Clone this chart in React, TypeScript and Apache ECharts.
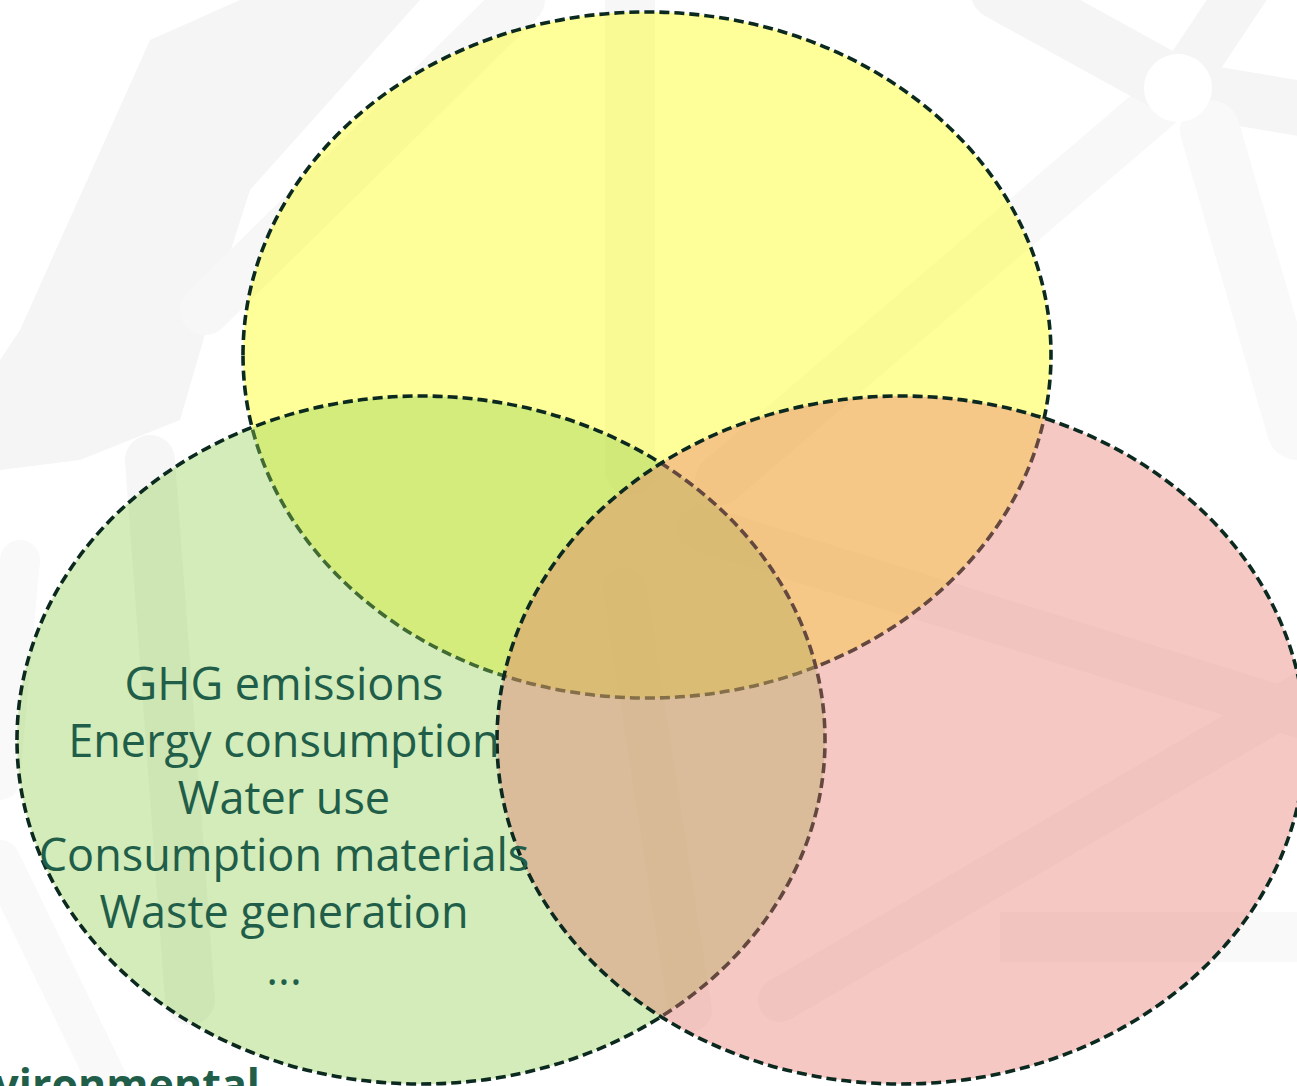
import React, { useEffect, useRef } from "react";
import * as echarts from "echarts";

// ---- data ----
const circleKeys = ["top", "environmental", "right"];
const circleCx = [647, 421, 901];
const circleCy = [355, 740, 740];
const circleRx = [404, 404, 404];
const circleRy = [343, 344, 344];

const envTitle = "Environmental";
const envItems = [
  "GHG emissions",
  "Energy consumption",
  "Water use",
  "Consumption materials",
  "Waste generation",
  "...",
];

// ---- styles / layout ----
const W = 1297;
const H = 1086;
const fills = [
  "rgba(255,255,0,0.4)",
  "rgba(146,208,80,0.4)",
  "rgba(232,117,107,0.4)",
];
const strokeColor = "#0c2920";
const textColor = "#215e4a";
const listX = 284;
const listBaseline0 = 700;
const listStep = 57;
const listFontSize = 45;
const titleX = -58;
const titleBaseline = 1100;
const titleFontSize = 43;

const bgGrey = "#f5f5f5";
const bgGrey2 = "#f9f9f9";

function band(x1: number, y1: number, x2: number, y2: number, w: number, c = bgGrey) {
  return {
    type: "line",
    silent: true,
    shape: { x1, y1, x2, y2 },
    style: { stroke: c, lineWidth: w, lineCap: "round" },
  };
}

const background = [
  {
    type: "polygon",
    silent: true,
    shape: {
      points: [
        [150, 40], [240, 0], [420, 0], [250, 190], [215, 300], [180, 420],
        [80, 460], [0, 470], [0, 360], [20, 330],
      ],
    },
    style: { fill: bgGrey },
  },
  band(205, 310, 520, 0, 50, "#f7f7f7"),
  band(630, 0, 630, 470, 50, "#f7f7f7"),
  band(1178, 88, 720, 480, 50, "#f8f8f8"),
  band(1178, 88, 1310, 110, 55),
  band(1178, 88, 1000, -10, 60),
  band(1178, 88, 1250, -20, 50),
  band(1210, 130, 1297, 430, 60, bgGrey2),
  { type: "circle", silent: true, shape: { cx: 1178, cy: 88, r: 34 }, style: { fill: "#ffffff" } },
  band(700, 528, 1310, 718, 46, "#f9f9f9"),
  band(1310, 690, 780, 1000, 44, "#f9f9f9"),
  { type: "rect", silent: true, shape: { x: 1000, y: 912, width: 297, height: 50 }, style: { fill: bgGrey2 } },
  band(625, 590, 690, 1010, 44, "#f9f9f9"),
  band(150, 460, 190, 1000, 50, "#f6f6f6"),
  band(0, 860, 110, 1086, 40, bgGrey2),
  band(20, 560, 0, 780, 40, bgGrey2),
];

export default function App() {
  const ref = useRef<HTMLDivElement>(null);

  useEffect(() => {
    if (!ref.current) return;
    const chart = echarts.init(ref.current, undefined, { renderer: "svg" });

    const circleData = circleKeys.map((k, i) => ({
      name: k,
      value: [circleCx[i], circleCy[i], circleRx[i], circleRy[i]],
    }));

    const option: any = {
      animation: false,
      backgroundColor: "#ffffff",
      grid: { left: 0, right: 0, top: 0, bottom: 0 },
      xAxis: { type: "value", min: 0, max: W, show: false },
      yAxis: { type: "value", min: 0, max: H, inverse: true, show: false },
      graphic: { elements: background },
      series: [
        {
          type: "custom",
          name: "sets",
          coordinateSystem: "cartesian2d",
          data: circleData,
          z: 2,
          renderItem: (params: any, api: any) => {
            const i = params.dataIndex;
            const c = api.coord([api.value(0), api.value(1)]);
            const s = api.size([api.value(2), api.value(3)]);
            return {
              type: "ellipse",
              shape: { cx: c[0], cy: c[1], rx: s[0], ry: s[1] },
              style: {
                fill: fills[i],
                stroke: strokeColor,
                lineWidth: 3.6,
                lineDash: [10, 5],
              },
            };
          },
        },
        {
          type: "custom",
          name: "items",
          coordinateSystem: "cartesian2d",
          data: envItems.map((t, i) => ({ name: t, value: [i] })),
          z: 5,
          renderItem: (params: any, api: any) => {
            const i = params.dataIndex;
            const p = api.coord([listX, listBaseline0 + i * listStep - 0.388 * listFontSize]);
            return {
              type: "text",
              style: {
                text: envItems[i],
                x: p[0],
                y: p[1],
                fill: textColor,
                fontSize: listFontSize,
                fontFamily: '"Open Sans", sans-serif',
                align: "center",
                verticalAlign: "middle",
              },
            };
          },
        },
        {
          type: "custom",
          name: "title",
          coordinateSystem: "cartesian2d",
          data: [{ name: envTitle, value: [0] }],
          z: 5,
          renderItem: (params: any, api: any) => {
            const p = api.coord([titleX, titleBaseline - 0.388 * titleFontSize]);
            return {
              type: "text",
              style: {
                text: envTitle,
                x: p[0],
                y: p[1],
                fill: textColor,
                fontSize: titleFontSize,
                fontWeight: "bold",
                fontFamily: '"Open Sans", sans-serif',
                align: "left",
                verticalAlign: "middle",
              },
            };
          },
        },
      ],
    };

    chart.setOption(option);
    return () => chart.dispose();
  }, []);

  return (
    <div
      ref={ref}
      style={{ position: "fixed", left: 0, top: 0, width: W, height: H, background: "#fff" }}
    />
  );
}
